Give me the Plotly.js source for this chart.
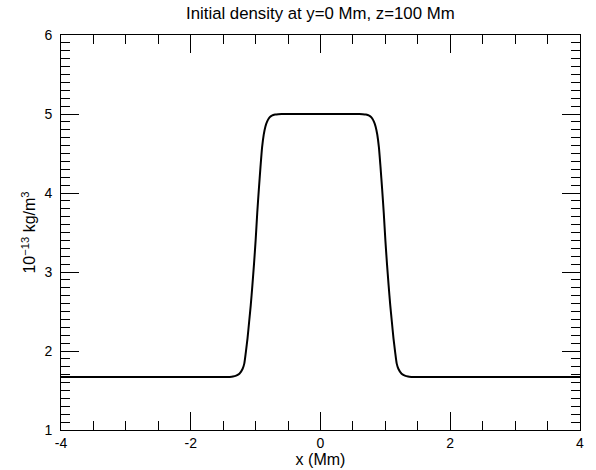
<!DOCTYPE html>
<html>
<head>
<meta charset="utf-8">
<script src="https://cdn.plot.ly/plotly-3.0.1.min.js"></script>
<style>html,body{margin:0;padding:0;background:#fff}#chart{width:596px;height:470px}</style>
</head>
<body>
<div id="chart"></div>
<script>
const xPos = [-4, -3, -2, -1.6, -1.5, -1.45, -1.4, -1.35, -1.3, -1.25, -1.2, -1.175, -1.15, -1.125, -1.1, -1.075, -1.05, -1.025, -1.0, -0.975, -0.95, -0.925, -0.9, -0.875, -0.85, -0.825, -0.8, -0.775, -0.75, -0.7, -0.65, -0.6, -0.5, 0,
              0.5, 0.6, 0.65, 0.7, 0.75, 0.775, 0.8, 0.825, 0.85, 0.875, 0.9, 0.925, 0.95, 0.975, 1.0, 1.025, 1.05, 1.075, 1.1, 1.125, 1.15, 1.175, 1.2, 1.25, 1.3, 1.35, 1.4, 1.45, 1.5, 1.6, 2, 3, 4];
const density = [1.67, 1.67, 1.67, 1.67, 1.67, 1.671, 1.672, 1.676, 1.688, 1.712, 1.775, 1.84, 1.99, 2.16, 2.37, 2.58, 2.83, 3.1, 3.40, 3.75, 4.05, 4.33, 4.58, 4.74, 4.84, 4.9, 4.94, 4.965, 4.98, 4.993, 4.998, 5.0, 5.0, 5.0,
               5.0, 5.0, 4.998, 4.993, 4.98, 4.965, 4.94, 4.9, 4.84, 4.74, 4.58, 4.33, 4.05, 3.75, 3.40, 3.1, 2.83, 2.58, 2.37, 2.16, 1.99, 1.84, 1.775, 1.712, 1.688, 1.676, 1.672, 1.671, 1.67, 1.67, 1.67, 1.67, 1.67];
const xTickVals = [-4, -2, 0, 2, 4];
const xTickText = ["-4", "-2", "0", "2", "4"];
const yTickVals = [1, 2, 3, 4, 5, 6];
const yTickText = ["1", "2", "3", "4", "5", "6"];

const fam = '"Liberation Sans", Arial, Helvetica, sans-serif';
const tickFont = {family: fam, size: 14, color: '#000'};
const axTitleFont = {family: fam, size: 16, color: '#000'};
const titleFont = {family: fam, size: 16.8, color: '#000'};

Plotly.newPlot('chart', [{
  x: xPos, y: density, type: 'scatter', mode: 'lines',
  line: {color: '#000', width: 2, shape: 'spline', smoothing: 0.6},
  hoverinfo: 'skip'
}], {
  width: 596, height: 470,
  margin: {l: 61, r: 16, t: 35, b: 40},
  paper_bgcolor: '#fff', plot_bgcolor: '#fff',
  font: tickFont,
  showlegend: false,
  title: {text: 'Initial density at y=0 Mm, z=100 Mm', font: titleFont, x: 0.5375, xanchor: 'center', y: 0.972, yanchor: 'middle', xref: 'container'},
  xaxis: {
    range: [-4, 4], tickmode: 'array', tickvals: xTickVals, ticktext: xTickText,
    ticks: 'inside', ticklen: 18, tickwidth: 1, tickcolor: '#000',
    minor: {dtick: 0.5, ticks: 'inside', ticklen: 9, tickwidth: 1, tickcolor: '#000', showgrid: false},
    showline: true, linecolor: '#000', linewidth: 1, mirror: 'allticks',
    showgrid: false, zeroline: false,
    tickfont: tickFont,
    title: {text: 'x (Mm)', font: axTitleFont, standoff: 2}
  },
  yaxis: {
    range: [1, 6], tickmode: 'array', tickvals: yTickVals, ticktext: yTickText,
    ticks: 'inside', ticklen: 18, tickwidth: 1, tickcolor: '#000',
    ticklabelstandoff: 5,
    minor: {dtick: 0.1, ticks: 'inside', ticklen: 9, tickwidth: 1, tickcolor: '#000', showgrid: false},
    showline: true, linecolor: '#000', linewidth: 1, mirror: 'allticks',
    showgrid: false, zeroline: false,
    tickfont: tickFont,
    title: {text: '10<sup>−13</sup> kg/m<sup>3</sup>', font: axTitleFont, standoff: 4}
  }
}, {staticPlot: true});
</script>
</body>
</html>
